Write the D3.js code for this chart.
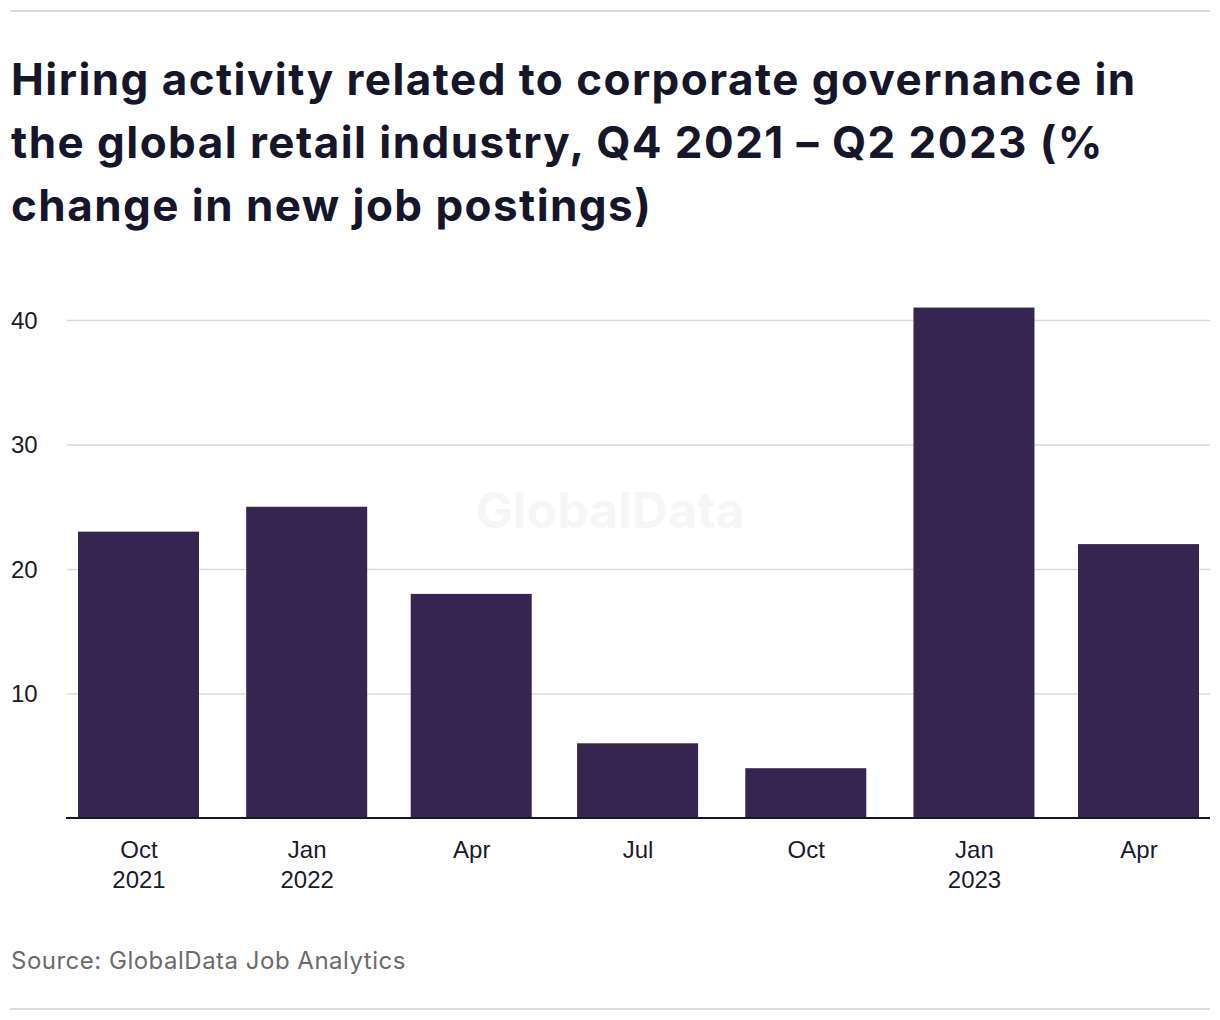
<!DOCTYPE html>
<html lang="en">
<head>
  <meta charset="UTF-8" />
  <title>Hiring activity - corporate governance</title>
  <script src="https://d3js.org/d3.v7.min.js"></script>
  <style>
    body {
      margin: 0;
      background: #fff;
      font-family: Inter, "Noto Sans", sans-serif;
    }

    svg {
      display: block;
    }

    .title {
      font-size: 44px;
      font-weight: 700;
      fill: #16162b;
      letter-spacing: 1.45px;
    }

    .tick text {
      font-size: 24px;
      fill: #1a1a2e;
    }
  </style>
</head>
<body>
  <svg id="chart" width="1220" height="1020"></svg>

  <script>
    const titleLines = [
      "Hiring activity related to corporate governance in",
      "the global retail industry, Q4 2021 \u2013 Q2 2023 (%",
      "change in new job postings)"
    ];
    const quarters = ["2021-10-01", "2022-01-01", "2022-04-01", "2022-07-01", "2022-10-01", "2023-01-01", "2023-04-01"];
    const monthLabels = ["Oct", "Jan", "Apr", "Jul", "Oct", "Jan", "Apr"];
    const yearLabels = ["2021", "2022", "", "", "", "2023", ""];
    const changes = [23, 25, 18, 6, 4, 41, 22];
    const yTicks = [10, 20, 30, 40];

    const data = quarters.map((q, i) => ({
      date: new Date(q + "T00:00:00Z"),
      month: monthLabels[i],
      year: yearLabels[i],
      value: changes[i]
    }));

    const svg = d3.select("#chart");

    // rules top and bottom
    svg.append("line").attr("x1", 10).attr("x2", 1210).attr("y1", 11).attr("y2", 11)
      .attr("stroke", "#dcdcdc").attr("stroke-width", 2);
    svg.append("line").attr("x1", 10).attr("x2", 1210).attr("y1", 1009).attr("y2", 1009)
      .attr("stroke", "#dcdcdc").attr("stroke-width", 2);

    svg.selectAll(".title")
      .data(titleLines)
      .join("text")
      .attr("class", "title")
      .attr("x", 11)
      .attr("y", (d, i) => 95 + i * 63)
      .text(d => d);

    const left = 67, right = 1210, baseY = 818;

    // time scale, bars centred on quarter starts
    const x = d3.scaleUtc()
      .domain([data[0].date, data[data.length - 1].date])
      .range([138.5, 1138.5]);
    const y = d3.scaleLinear().domain([0, 40]).range([baseY, 320]);
    const barW = 121;

    // watermark
    svg.append("text")
      .attr("x", 610).attr("y", 528)
      .attr("text-anchor", "middle")
      .attr("font-size", 50).attr("font-weight", 700)
      .attr("fill", "#f6f6f6")
      .text("GlobalData");

    // gridlines + y labels
    const yAxis = svg.append("g")
      .attr("transform", `translate(${left},0)`)
      .call(d3.axisLeft(y).tickValues(yTicks).tickSize(-(right - left)).tickPadding(0));
    yAxis.select(".domain").remove();
    yAxis.selectAll(".tick line").attr("stroke", "#dadada").attr("stroke-width", 1.5);
    yAxis.selectAll(".tick text")
      .attr("text-anchor", "start")
      .attr("x", 11 - left)
      .attr("dy", "0.35em");

    svg.append("g")
      .selectAll("rect")
      .data(data)
      .join("rect")
      .attr("x", d => x(d.date) - barW / 2)
      .attr("width", barW)
      .attr("y", d => y(d.value))
      .attr("height", d => baseY - y(d.value))
      .attr("fill", "#362551");

    // baseline
    svg.append("line").attr("x1", left - 1).attr("x2", right).attr("y1", baseY).attr("y2", baseY)
      .attr("stroke", "#16162b").attr("stroke-width", 2);

    // x axis labels, two lines
    const xAxis = svg.append("g")
      .attr("transform", `translate(0,${baseY})`)
      .call(d3.axisBottom(x).tickValues(data.map(d => d.date)).tickSize(0).tickFormat(""));
    xAxis.select(".domain").remove();
    xAxis.selectAll(".tick").each(function (d, i) {
      const t = d3.select(this).select("text");
      t.attr("y", 0).attr("dy", null);
      t.append("tspan").attr("x", 0).attr("y", 40).text(data[i].month);
      if (data[i].year) t.append("tspan").attr("x", 0).attr("y", 70).text(data[i].year);
    });

    svg.append("text")
      .attr("x", 11).attr("y", 969)
      .attr("font-size", 24)
      .attr("letter-spacing", 0.5)
      .attr("fill", "#6b6b6b")
      .text("Source: GlobalData Job Analytics");
  </script>
</body>
</html>
